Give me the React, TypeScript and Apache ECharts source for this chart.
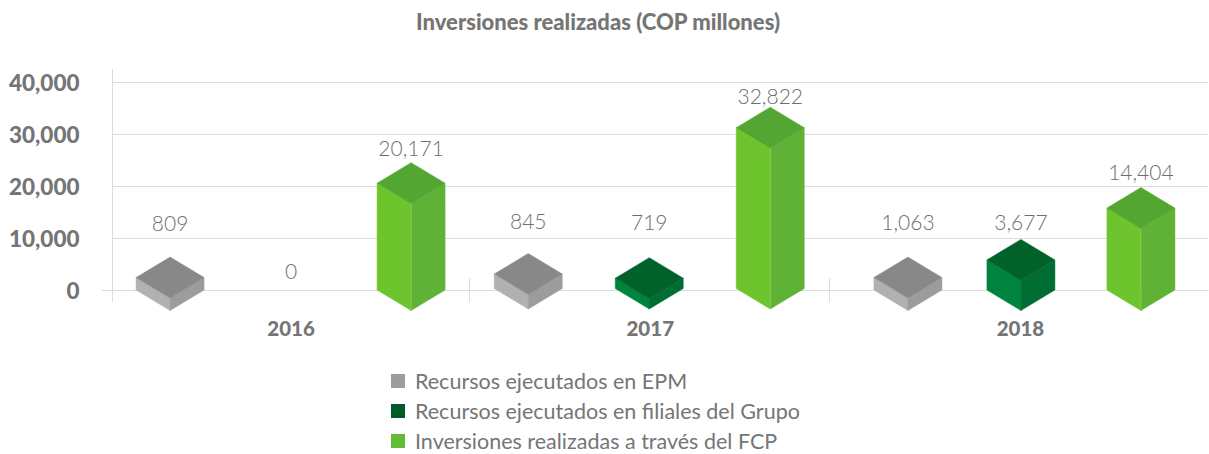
import React, { useEffect, useRef } from "react";
import * as echarts from "echarts";

const years = ["2016", "2017", "2018"];
const seriesNames = [
  "Recursos ejecutados en EPM",
  "Recursos ejecutados en filiales del Grupo",
  "Inversiones realizadas a través del FCP",
];
// Printed values
const epmLabels = [809, 845, 1063];
const filialesLabels = [0, 719, 3677];
const fcpLabels = [20171, 32822, 14404];
// Drawn heights read against the value axis (picture's bars are not to scale)
const epmHeights = [2400, 2800, 2400];
const filialesHeights = [0, 2000, 5800];
const fcpHeights = [20600, 31000, 15800];
const yTicks = [0, 10000, 20000, 30000, 40000];

// Layout and styling
const slotOffsets = [-121, 0, 121];
const nudge = [[-4, -4, -5], [-11, -11, -11], [3.5, -4.5, -5.5]];
const labelGap = [[55, 20, 36], [53, 56.5, 32], [56, 38, 36.5]];
const baseLift = [0, 1.5, 0];
const yearShift = [8, 20, 10];
const faces = [
  { legend: "#9d9d9d", top: "#888888", left: "#b1b1b1", right: "#9c9c9c", edge: "#a8a8a8" },
  { legend: "#005c26", top: "#00622a", left: "#00843d", right: "#006e33", edge: "#007a38" },
  { legend: "#63bb38", top: "#54a632", left: "#6ec42d", right: "#60b236", edge: "#8fd45a" },
];
const HW = 34;
const HH = 20.5;
const TEXT = "#757575";
const VALUE_TEXT = "#6e6e6e";
const FONT = "Lato, 'Open Sans', sans-serif";
const GRID = "#dcdcdc";
const fmt = (v: number) => v.toLocaleString("en-US");

function makeSeries(s: number, heights: number[], labels: number[]) {
  return {
    type: "custom",
    name: seriesNames[s],
    itemStyle: { color: faces[s].legend },
    data: heights.map((h, i) => [i, h, labels[i]]),
    encode: { x: 0, y: 1 },
    clip: false,
    renderItem: (_p: any, api: any) => {
      const i = api.value(0);
      const h = api.value(1);
      const lab = api.value(2);
      const c = api.coord([i, h]);
      const b = api.coord([i, 0]);
      const x = c[0] + slotOffsets[s] + nudge[i][s];
      const lift = baseLift[i];
      const yb = b[1] - lift;
      const yt = c[1] - lift;
      const f = faces[s];
      const children: any[] = [];
      if (h > 0) {
        const poly = (points: number[][], fill: string) => ({
          type: "polygon",
          shape: { points },
          style: { fill, stroke: fill, lineWidth: 0.5 },
        });
        children.push(
          poly([[x - HW, yt], [x, yt + HH], [x, yb + HH], [x - HW, yb]], f.left),
          poly([[x, yt + HH], [x + HW, yt], [x + HW, yb], [x, yb + HH]], f.right),
          poly([[x - HW, yt], [x, yt - HH], [x + HW, yt], [x, yt + HH]], f.top),
          {
            type: "line",
            shape: { x1: x, y1: yt + HH, x2: x, y2: yb + HH },
            style: { stroke: f.edge, lineWidth: 0.8 },
          },
        );
      }
      children.push({
        type: "text",
        style: {
          text: fmt(lab),
          x,
          y: yt - labelGap[i][s],
          fill: VALUE_TEXT,
          font: `300 21px ${FONT}`,
          textAlign: "center",
          textVerticalAlign: "middle",
        },
      });
      return { type: "group", children };
    },
  };
}

const chrome = (points: number[][]) => ({
  type: "line",
  shape: { x1: points[0][0], y1: points[0][1], x2: points[1][0], y2: points[1][1] },
  style: { stroke: GRID, lineWidth: 1 },
  silent: true,
});

const yearRich: any = {};
yearShift.forEach((pad, i) => {
  yearRich[`y${i}`] = {
    color: TEXT,
    fontFamily: FONT,
    fontSize: 20.5,
    fontWeight: 900,
    padding: [0, pad, 0, 0],
  };
});

export default function App() {
  const ref = useRef<HTMLDivElement>(null);
  useEffect(() => {
    document.body.style.margin = "0";
    const chart = echarts.init(ref.current!, undefined, { renderer: "svg" });
    chart.setOption({
      animation: false,
      textStyle: { fontFamily: FONT },
      title: {
        text: "Inversiones realizadas (COP millones)",
        left: 593,
        top: 5,
        textAlign: "center",
        textStyle: { fontFamily: FONT, fontSize: 22, fontWeight: 900, color: TEXT },
      },
      grid: { left: 112.5, right: 1, top: 82.5, height: 207.5 },
      xAxis: {
        type: "category",
        data: years,
        axisLine: { show: true, lineStyle: { color: GRID } },
        axisTick: { show: false },
        axisLabel: {
          margin: 27,
          formatter: (v: string) => `{y${years.indexOf(v)}|${v}}`,
          rich: yearRich,
        },
      },
      yAxis: {
        type: "value",
        min: 0,
        max: 40000,
        interval: 10000,
        axisLine: { show: false },
        axisTick: { show: false },
        splitLine: { lineStyle: { color: GRID } },
        axisLabel: {
          color: TEXT,
          fontFamily: FONT,
          fontSize: 22.5,
          fontWeight: 900,
          margin: 33,
          formatter: (v: number) => (yTicks.includes(v) ? fmt(v) : ""),
        },
      },
      legend: {
        orient: "vertical",
        left: 391,
        top: 370,
        padding: 0,
        height: 84,
        itemWidth: 14,
        itemHeight: 14,
        itemGap: 8,
        icon: "rect",
        data: seriesNames,
        selectedMode: false,
        textStyle: {
          color: TEXT,
          fontFamily: FONT,
          fontSize: 21.5,
          fontWeight: 400,
          padding: [0, 0, 3, 5],
        },
      },
      graphic: [
        chrome([[112.5, 69], [112.5, 302]]),
        chrome([[102, 290.5], [113, 290.5]]),
        chrome([[469.5, 278], [469.5, 302]]),
        chrome([[829.5, 278], [829.5, 302]]),
      ],
      series: [
        makeSeries(0, epmHeights, epmLabels),
        makeSeries(1, filialesHeights, filialesLabels),
        makeSeries(2, fcpHeights, fcpLabels),
      ],
    });
    return () => chart.dispose();
  }, []);
  return <div ref={ref} style={{ width: 1209, height: 454 }} />;
}
